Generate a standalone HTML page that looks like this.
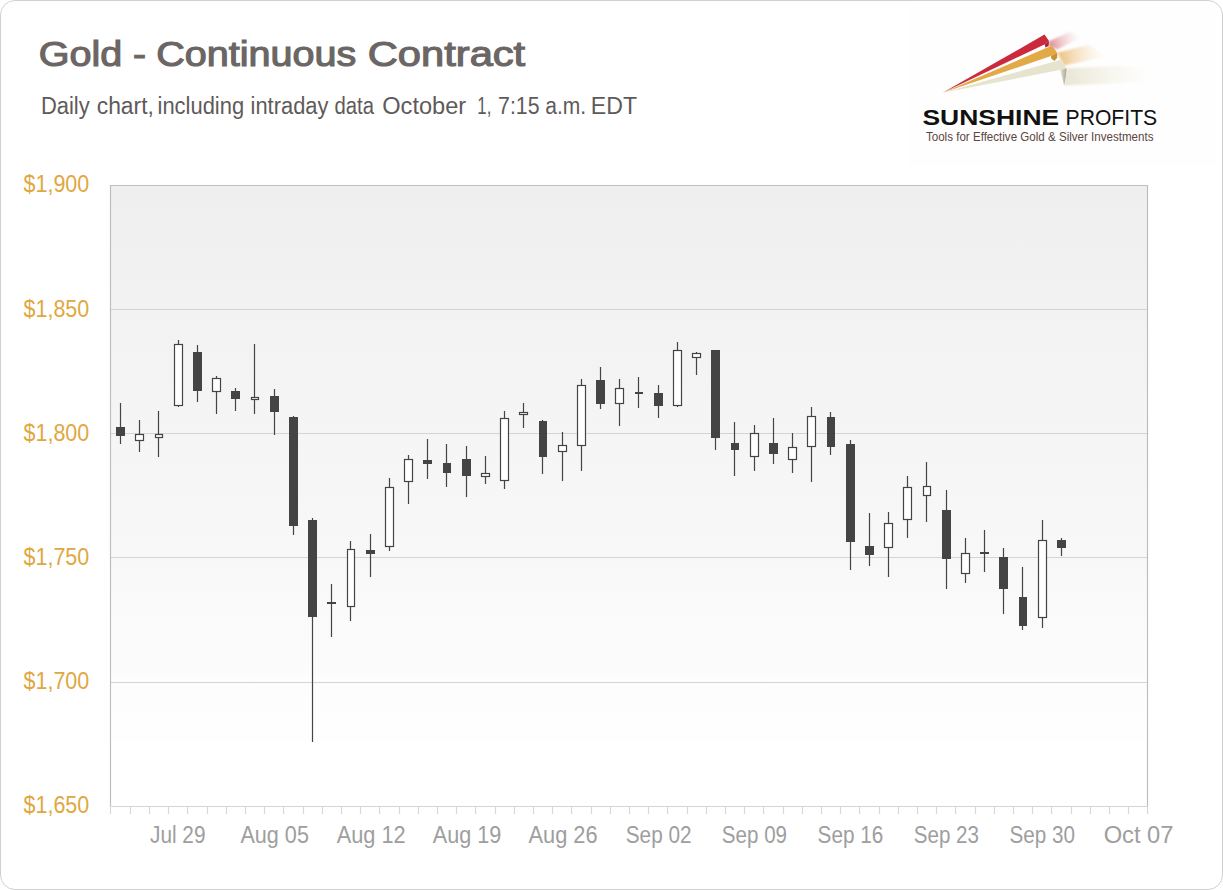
<!DOCTYPE html>
<html><head><meta charset="utf-8">
<style>
html,body{margin:0;padding:0;background:#fff;}
body{width:1223px;height:890px;overflow:hidden;position:relative;font-family:"Liberation Sans",sans-serif;}
.frame{position:absolute;left:0;top:0;width:1221px;height:888px;border:1px solid #d0d0d0;border-radius:15px;background:#fff;}
svg{position:absolute;left:0;top:0;}
</style></head><body>
<div class="frame"></div>
<svg width="1223" height="890" viewBox="0 0 1223 890">
<defs>
<linearGradient id="bg" x1="0" y1="0" x2="0" y2="1">
<stop offset="0" stop-color="#efefef"/>
<stop offset="0.6" stop-color="#f8f8f8"/>
<stop offset="0.79" stop-color="#fcfcfc"/>
<stop offset="0.791" stop-color="#fdfdfd"/>
<stop offset="0.895" stop-color="#fefefe"/>
<stop offset="0.896" stop-color="#ffffff"/>
<stop offset="1" stop-color="#ffffff"/>
</linearGradient>
<linearGradient id="tr1" gradientUnits="userSpaceOnUse" x1="1049" y1="44" x2="1080" y2="35">
<stop offset="0" stop-color="#d47a86" stop-opacity="0.85"/>
<stop offset="1" stop-color="#f2c9ce" stop-opacity="0"/>
</linearGradient>
<linearGradient id="tr2" gradientUnits="userSpaceOnUse" x1="1057" y1="58" x2="1106" y2="52">
<stop offset="0" stop-color="#e9b76a" stop-opacity="0.9"/>
<stop offset="1" stop-color="#f8e6c6" stop-opacity="0"/>
</linearGradient>
<linearGradient id="tr3" gradientUnits="userSpaceOnUse" x1="1065" y1="76" x2="1150" y2="74">
<stop offset="0" stop-color="#e9e6d4" stop-opacity="1"/>
<stop offset="1" stop-color="#f4f2e6" stop-opacity="0"/>
</linearGradient>
<filter id="blur1" x="-20%" y="-50%" width="140%" height="200%"><feGaussianBlur stdDeviation="1.2"/></filter>
<linearGradient id="fold3" x1="0" y1="0" x2="1" y2="0">
<stop offset="0" stop-color="#e9e6d6"/>
<stop offset="1" stop-color="#a9a593"/>
</linearGradient>
</defs>
<!-- title -->
<g font-family="Liberation Sans" font-size="34.8" fill="#6b6665" stroke="#6b6665" stroke-width="1.15"><text x="38.80" y="66.0" textLength="83.60" lengthAdjust="spacingAndGlyphs">Gold</text><text x="133.02" y="66.0" textLength="12.98" lengthAdjust="spacingAndGlyphs">-</text><text x="156.20" y="66.0" textLength="200.08" lengthAdjust="spacingAndGlyphs">Continuous</text><text x="367.79" y="66.0" textLength="157.42" lengthAdjust="spacingAndGlyphs">Contract</text></g>
<g font-family="Liberation Sans" font-size="23" fill="#5f5a5a"><text x="40.89" y="114.1" textLength="48.77" lengthAdjust="spacingAndGlyphs">Daily</text><text x="96.73" y="114.1" textLength="57.15" lengthAdjust="spacingAndGlyphs">chart,</text><text x="157.52" y="114.1" textLength="86.65" lengthAdjust="spacingAndGlyphs">including</text><text x="250.52" y="114.1" textLength="77.94" lengthAdjust="spacingAndGlyphs">intraday</text><text x="334.44" y="114.1" textLength="39.49" lengthAdjust="spacingAndGlyphs">data</text><text x="382.28" y="114.1" textLength="83.87" lengthAdjust="spacingAndGlyphs">October</text><text x="477.34" y="114.1" textLength="13.99" lengthAdjust="spacingAndGlyphs">1,</text><text x="498.08" y="114.1" textLength="41.50" lengthAdjust="spacingAndGlyphs">7:15</text><text x="545.21" y="114.1" textLength="40.88" lengthAdjust="spacingAndGlyphs">a.m.</text><text x="590.89" y="114.1" textLength="46.23" lengthAdjust="spacingAndGlyphs">EDT</text></g>
<!-- logo -->
<rect x="909" y="5" width="307" height="161" fill="#fefefe"/>
<g filter="url(#blur1)">
<polygon points="1049,41.2 1070,31.8 1081,37.5 1057,49.5 1048.6,46" fill="url(#tr1)"/>
<polygon points="1057.2,52.8 1088,45 1108,56 1064.2,65.5" fill="url(#tr2)"/>
<polygon points="1066.6,68.3 1120,66 1152,68 1152,82 1064.2,85.5" fill="url(#tr3)"/>
</g>
<polygon points="942.6,92.8 1044.5,34.6 1049,41 1045,44.2" fill="#cb2a3d"/>
<polygon points="1045,44.2 1049,41 1048.6,45.9 1045.2,47.6" fill="#ae1f31"/>
<polygon points="942.6,92.8 1051.9,45.5 1057.2,52.8 1051,56" fill="#e2a947"/>
<polygon points="1051,56 1057.2,52.8 1057.2,57.7 1054.3,61 1051.3,58.4" fill="#c79234"/>
<polygon points="942.6,92.8 1060.9,59.8 1066.6,68.3 1060,70" fill="#e6e3cf"/>
<polygon points="1060,70 1066.6,68.3 1066,76 1064.2,85.5 1060.8,72" fill="url(#fold3)"/>
<g font-family="Liberation Sans" font-size="21.5" fill="#111"><text x="922.41" y="124.6" textLength="136.75" lengthAdjust="spacingAndGlyphs" font-weight="bold">SUNSHINE</text><text x="1065.56" y="124.6" textLength="91.62" lengthAdjust="spacingAndGlyphs">PROFITS</text></g>
<g font-family="Liberation Sans" font-size="12.6" fill="#5a463f"><text x="925.94" y="141" textLength="227.56" lengthAdjust="spacingAndGlyphs">Tools for Effective Gold &amp; Silver Investments</text></g>
<!-- chart -->
<rect x="110" y="185" width="1038" height="621" fill="url(#bg)"/>
<g stroke="#d4d4d4" stroke-width="1.15"><line x1="110" y1="309.5" x2="1148" y2="309.5"/><line x1="110" y1="433.5" x2="1148" y2="433.5"/><line x1="110" y1="557.5" x2="1148" y2="557.5"/><line x1="110" y1="682.5" x2="1148" y2="682.5"/></g>
<path d="M110.5 806V185.5H1147.5V806" fill="none" stroke="#bdbdbd" stroke-width="1.15"/>
<path d="M110 806.5H1148" stroke="#d5d5d5" stroke-width="1.15"/>
<path d="M110.5 806V814M130.5 806V814M149.5 806V814M168.5 806V814M187.5 806V814M207.5 806V814M226.5 806V814M245.5 806V814M264.5 806V814M283.5 806V814M303.5 806V814M322.5 806V814M341.5 806V814M360.5 806V814M379.5 806V814M399.5 806V814M418.5 806V814M437.5 806V814M456.5 806V814M475.5 806V814M495.5 806V814M514.5 806V814M533.5 806V814M552.5 806V814M571.5 806V814M591.5 806V814M610.5 806V814M629.5 806V814M648.5 806V814M667.5 806V814M687.5 806V814M706.5 806V814M725.5 806V814M744.5 806V814M763.5 806V814M783.5 806V814M802.5 806V814M821.5 806V814M840.5 806V814M859.5 806V814M879.5 806V814M898.5 806V814M917.5 806V814M936.5 806V814M955.5 806V814M975.5 806V814M994.5 806V814M1013.5 806V814M1032.5 806V814M1051.5 806V814M1071.5 806V814M1090.5 806V814M1109.5 806V814M1128.5 806V814M1147.5 806V814" stroke="#d8d8d8" stroke-width="1.15"/>
<g font-family="Liberation Sans" font-size="23" fill="#dfa83f"><text x="23.48" y="192.3" textLength="65.85" lengthAdjust="spacingAndGlyphs">$1,900</text><text x="23.48" y="316.8" textLength="65.85" lengthAdjust="spacingAndGlyphs">$1,850</text><text x="23.48" y="441.0" textLength="65.85" lengthAdjust="spacingAndGlyphs">$1,800</text><text x="23.48" y="565.0" textLength="65.85" lengthAdjust="spacingAndGlyphs">$1,750</text><text x="23.48" y="689.2" textLength="65.85" lengthAdjust="spacingAndGlyphs">$1,700</text><text x="23.48" y="813.2" textLength="65.85" lengthAdjust="spacingAndGlyphs">$1,650</text></g>
<g font-family="Liberation Sans" font-size="23.5" fill="#9e9e9e"><text x="149.99" y="842.9" textLength="55.47" lengthAdjust="spacingAndGlyphs">Jul 29</text><text x="240.45" y="842.9" textLength="68.46" lengthAdjust="spacingAndGlyphs">Aug 05</text><text x="336.65" y="842.9" textLength="69.09" lengthAdjust="spacingAndGlyphs">Aug 12</text><text x="432.75" y="842.9" textLength="68.57" lengthAdjust="spacingAndGlyphs">Aug 19</text><text x="528.45" y="842.9" textLength="69.23" lengthAdjust="spacingAndGlyphs">Aug 26</text><text x="625.77" y="842.9" textLength="65.81" lengthAdjust="spacingAndGlyphs">Sep 02</text><text x="721.87" y="842.9" textLength="65.19" lengthAdjust="spacingAndGlyphs">Sep 09</text><text x="817.57" y="842.9" textLength="65.65" lengthAdjust="spacingAndGlyphs">Sep 16</text><text x="913.78" y="842.9" textLength="65.14" lengthAdjust="spacingAndGlyphs">Sep 23</text><text x="1009.47" y="842.9" textLength="65.45" lengthAdjust="spacingAndGlyphs">Sep 30</text><text x="1103.67" y="842.9" textLength="69.83" lengthAdjust="spacingAndGlyphs">Oct 07</text></g>
<g stroke="#444444" stroke-width="1.2">
<line x1="120.50" y1="403" x2="120.50" y2="444"/>
<rect x="116" y="427" width="9" height="9" fill="#444444" stroke="none"/>
<line x1="139.50" y1="420" x2="139.50" y2="452"/>
<rect x="135.5" y="434.5" width="8" height="6" fill="#fff" stroke="#444444" stroke-width="1.2"/>
<line x1="158.50" y1="411" x2="158.50" y2="457"/>
<rect x="155.5" y="434.5" width="7" height="3" fill="#fff" stroke="#444444" stroke-width="1.2"/>
<line x1="178.50" y1="340" x2="178.50" y2="407"/>
<rect x="174.5" y="344.5" width="8" height="61" fill="#fff" stroke="#444444" stroke-width="1.2"/>
<line x1="197.50" y1="345" x2="197.50" y2="402"/>
<rect x="193" y="352" width="9" height="39" fill="#444444" stroke="none"/>
<line x1="216.50" y1="376" x2="216.50" y2="414"/>
<rect x="212.5" y="378.5" width="8" height="13" fill="#fff" stroke="#444444" stroke-width="1.2"/>
<line x1="235.50" y1="388" x2="235.50" y2="411"/>
<rect x="231" y="391" width="9" height="8" fill="#444444" stroke="none"/>
<line x1="254.50" y1="344" x2="254.50" y2="414"/>
<rect x="251.5" y="397.5" width="7" height="2" fill="#fff" stroke="#444444" stroke-width="1.2"/>
<line x1="274.50" y1="389" x2="274.50" y2="435"/>
<rect x="270" y="396" width="9" height="16" fill="#444444" stroke="none"/>
<line x1="293.50" y1="416" x2="293.50" y2="535"/>
<rect x="289" y="417" width="9" height="109" fill="#444444" stroke="none"/>
<line x1="312.50" y1="518" x2="312.50" y2="742"/>
<rect x="308" y="520" width="9" height="97" fill="#444444" stroke="none"/>
<line x1="331.50" y1="584" x2="331.50" y2="637"/>
<rect x="327" y="602" width="9" height="2" fill="#444444" stroke="none"/>
<line x1="350.50" y1="541" x2="350.50" y2="621"/>
<rect x="347.5" y="549.5" width="7" height="57" fill="#fff" stroke="#444444" stroke-width="1.2"/>
<line x1="370.50" y1="534" x2="370.50" y2="577"/>
<rect x="366" y="550" width="9" height="4" fill="#444444" stroke="none"/>
<line x1="389.50" y1="478" x2="389.50" y2="551"/>
<rect x="385.5" y="487.5" width="8" height="59" fill="#fff" stroke="#444444" stroke-width="1.2"/>
<line x1="408.50" y1="455" x2="408.50" y2="504"/>
<rect x="404.5" y="459.5" width="8" height="22" fill="#fff" stroke="#444444" stroke-width="1.2"/>
<line x1="427.50" y1="439" x2="427.50" y2="479"/>
<rect x="423" y="460" width="9" height="4" fill="#444444" stroke="none"/>
<line x1="446.50" y1="444" x2="446.50" y2="487"/>
<rect x="443" y="463" width="8" height="10" fill="#444444" stroke="none"/>
<line x1="466.50" y1="446" x2="466.50" y2="497"/>
<rect x="462" y="459" width="9" height="17" fill="#444444" stroke="none"/>
<line x1="485.50" y1="456" x2="485.50" y2="484"/>
<rect x="481.5" y="473.5" width="8" height="3" fill="#fff" stroke="#444444" stroke-width="1.2"/>
<line x1="504.50" y1="411" x2="504.50" y2="489"/>
<rect x="500.5" y="418.5" width="8" height="62" fill="#fff" stroke="#444444" stroke-width="1.2"/>
<line x1="523.50" y1="403" x2="523.50" y2="428"/>
<rect x="519.5" y="412.5" width="8" height="2" fill="#fff" stroke="#444444" stroke-width="1.2"/>
<line x1="542.50" y1="420" x2="542.50" y2="474"/>
<rect x="539" y="421" width="8" height="36" fill="#444444" stroke="none"/>
<line x1="562.50" y1="432" x2="562.50" y2="481"/>
<rect x="558.5" y="445.5" width="8" height="6" fill="#fff" stroke="#444444" stroke-width="1.2"/>
<line x1="581.50" y1="379" x2="581.50" y2="471"/>
<rect x="577.5" y="385.5" width="8" height="60" fill="#fff" stroke="#444444" stroke-width="1.2"/>
<line x1="600.50" y1="367" x2="600.50" y2="409"/>
<rect x="596" y="380" width="9" height="24" fill="#444444" stroke="none"/>
<line x1="619.50" y1="379" x2="619.50" y2="426"/>
<rect x="615.5" y="388.5" width="8" height="15" fill="#fff" stroke="#444444" stroke-width="1.2"/>
<line x1="638.50" y1="377" x2="638.50" y2="408"/>
<rect x="635" y="392" width="8" height="2" fill="#444444" stroke="none"/>
<line x1="658.50" y1="385" x2="658.50" y2="418"/>
<rect x="654" y="393" width="9" height="13" fill="#444444" stroke="none"/>
<line x1="677.50" y1="342" x2="677.50" y2="407"/>
<rect x="673.5" y="350.5" width="8" height="55" fill="#fff" stroke="#444444" stroke-width="1.2"/>
<line x1="696.50" y1="352" x2="696.50" y2="375"/>
<rect x="692.5" y="353.5" width="8" height="4" fill="#fff" stroke="#444444" stroke-width="1.2"/>
<line x1="715.50" y1="350" x2="715.50" y2="450"/>
<rect x="711" y="350" width="9" height="88" fill="#444444" stroke="none"/>
<line x1="734.50" y1="422" x2="734.50" y2="476"/>
<rect x="731" y="443" width="8" height="7" fill="#444444" stroke="none"/>
<line x1="754.50" y1="425" x2="754.50" y2="471"/>
<rect x="750.5" y="433.5" width="8" height="23" fill="#fff" stroke="#444444" stroke-width="1.2"/>
<line x1="773.50" y1="418" x2="773.50" y2="464"/>
<rect x="769" y="443" width="9" height="11" fill="#444444" stroke="none"/>
<line x1="792.50" y1="433" x2="792.50" y2="473"/>
<rect x="788.5" y="447.5" width="8" height="12" fill="#fff" stroke="#444444" stroke-width="1.2"/>
<line x1="811.50" y1="407" x2="811.50" y2="482"/>
<rect x="807.5" y="416.5" width="8" height="30" fill="#fff" stroke="#444444" stroke-width="1.2"/>
<line x1="830.50" y1="412" x2="830.50" y2="455"/>
<rect x="827" y="417" width="8" height="30" fill="#444444" stroke="none"/>
<line x1="850.50" y1="440" x2="850.50" y2="570"/>
<rect x="846" y="444" width="9" height="98" fill="#444444" stroke="none"/>
<line x1="869.50" y1="513" x2="869.50" y2="566"/>
<rect x="865" y="546" width="9" height="9" fill="#444444" stroke="none"/>
<line x1="888.50" y1="512" x2="888.50" y2="577"/>
<rect x="884.5" y="523.5" width="8" height="24" fill="#fff" stroke="#444444" stroke-width="1.2"/>
<line x1="907.50" y1="476" x2="907.50" y2="538"/>
<rect x="903.5" y="487.5" width="8" height="32" fill="#fff" stroke="#444444" stroke-width="1.2"/>
<line x1="926.50" y1="462" x2="926.50" y2="522"/>
<rect x="923.5" y="486.5" width="7" height="9" fill="#fff" stroke="#444444" stroke-width="1.2"/>
<line x1="946.50" y1="490" x2="946.50" y2="589"/>
<rect x="942" y="510" width="9" height="49" fill="#444444" stroke="none"/>
<line x1="965.50" y1="538" x2="965.50" y2="583"/>
<rect x="961.5" y="553.5" width="8" height="20" fill="#fff" stroke="#444444" stroke-width="1.2"/>
<line x1="984.50" y1="530" x2="984.50" y2="572"/>
<rect x="980" y="552" width="9" height="2" fill="#444444" stroke="none"/>
<line x1="1003.50" y1="548" x2="1003.50" y2="614"/>
<rect x="999" y="557" width="9" height="32" fill="#444444" stroke="none"/>
<line x1="1022.50" y1="567" x2="1022.50" y2="630"/>
<rect x="1019" y="597" width="8" height="29" fill="#444444" stroke="none"/>
<line x1="1042.50" y1="520" x2="1042.50" y2="628"/>
<rect x="1038.5" y="540.5" width="8" height="77" fill="#fff" stroke="#444444" stroke-width="1.2"/>
<line x1="1061.50" y1="538" x2="1061.50" y2="556"/>
<rect x="1057" y="540" width="9" height="8" fill="#444444" stroke="none"/>
</g>
</svg>
</body></html>
